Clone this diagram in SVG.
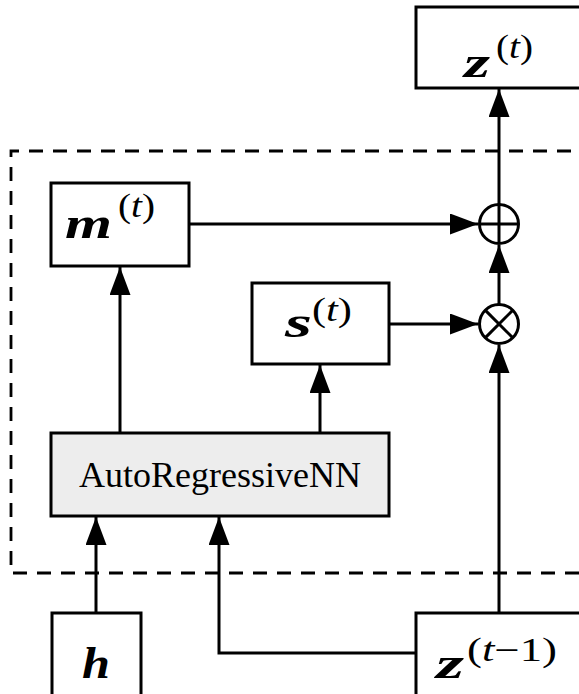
<svg xmlns="http://www.w3.org/2000/svg" width="579" height="694" viewBox="0 0 579 694">
<style>
.box{fill:#fff;stroke:#000;stroke-width:3}
.nn{fill:#ededed;stroke:#000;stroke-width:3}
.ln{fill:none;stroke:#000;stroke-width:3}
.arr{fill:none;stroke:#000;stroke-width:3;marker-end:url(#ah)}
.dash{fill:none;stroke:#000;stroke-width:2.8;stroke-dasharray:14 10}
.mv{font-family:"Liberation Serif","DejaVu Serif",serif;font-weight:bold;font-style:italic;font-size:44px}
.sup{font-family:"Liberation Serif","DejaVu Serif",serif;font-weight:normal;font-style:normal;font-size:33px}
.it{font-style:italic;font-weight:normal}
.lbl{font-family:"Liberation Serif","Times New Roman",serif;font-size:36px;text-anchor:middle}
</style>
<defs>
<marker id="ah" markerUnits="userSpaceOnUse" markerWidth="28" markerHeight="21" refX="28" refY="10.5" orient="auto">
<path d="M0,0 L28,10.5 L0,21 z" fill="#000"/>
</marker>
</defs>
<path class="dash" d="M595,151 H11 V573 H595"/>
<g id="connectors">
<line class="arr" x1="499" y1="613" x2="499" y2="345"/>
<line class="arr" x1="499" y1="304" x2="499" y2="245"/>
<line class="arr" x1="499" y1="204" x2="499" y2="89"/>
<line class="arr" x1="189" y1="224" x2="478" y2="224"/>
<line class="arr" x1="389" y1="324" x2="478" y2="324"/>
<line class="arr" x1="120" y1="433" x2="120" y2="267"/>
<line class="arr" x1="320" y1="433" x2="320" y2="365"/>
<line class="arr" x1="96" y1="613" x2="96" y2="517"/>
<polyline class="arr" points="416,653 219,653 219,517"/>
</g>
<g id="plus">
<circle class="box" cx="499" cy="224" r="19.5"/>
<line class="ln" x1="480" y1="224" x2="518" y2="224"/>
<line class="ln" x1="499" y1="205" x2="499" y2="243"/>
</g>
<g id="times">
<circle class="box" cx="499" cy="324" r="19.5"/>
<line class="ln" x1="485.4" y1="310.4" x2="512.6" y2="337.6"/>
<line class="ln" x1="512.6" y1="310.4" x2="485.4" y2="337.6"/>
</g>
<g id="zt">
<rect class="box" x="416" y="7" width="190" height="81"/>
<text class="mv" x="464" y="77" textLength="26" lengthAdjust="spacingAndGlyphs">z</text>
<text class="sup" x="496" y="58" textLength="37" lengthAdjust="spacingAndGlyphs">(<tspan class="it">t</tspan>)</text>
</g>
<g id="mt">
<rect class="box" x="51" y="183" width="138" height="83"/>
<text class="mv" x="65" y="238" textLength="47" lengthAdjust="spacingAndGlyphs">m</text>
<text class="sup" x="118" y="217" textLength="37" lengthAdjust="spacingAndGlyphs">(<tspan class="it">t</tspan>)</text>
</g>
<g id="st">
<rect class="box" x="252" y="283" width="137" height="81"/>
<text class="mv" x="285" y="337" textLength="27" lengthAdjust="spacingAndGlyphs">s</text>
<text class="sup" x="312" y="321" textLength="40" lengthAdjust="spacingAndGlyphs">(<tspan class="it">t</tspan>)</text>
</g>
<g id="arnn">
<rect class="nn" x="51" y="433" width="338" height="83"/>
<text class="lbl" x="220" y="487">AutoRegressiveNN</text>
</g>
<g id="h">
<rect class="box" x="52" y="613" width="89" height="95"/>
<text class="mv" x="82" y="678" textLength="28" lengthAdjust="spacingAndGlyphs">h</text>
</g>
<g id="ztm1">
<rect class="box" x="416" y="613" width="190" height="95"/>
<text class="mv" x="436" y="678" textLength="28" lengthAdjust="spacingAndGlyphs">z</text>
<text class="sup" x="467" y="661" textLength="90" lengthAdjust="spacingAndGlyphs">(<tspan class="it">t</tspan>−1)</text>
</g>
</svg>
